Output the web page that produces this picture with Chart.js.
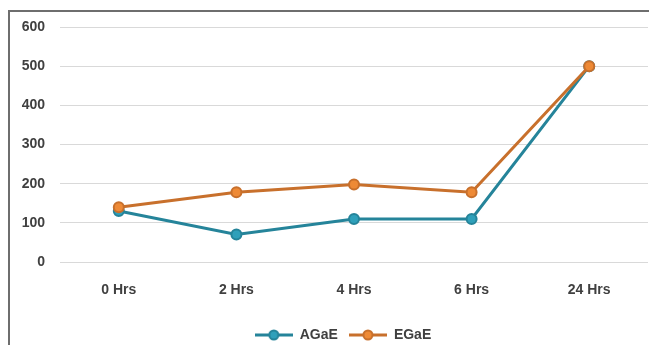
<!DOCTYPE html>
<html>
<head>
<meta charset="utf-8">
<script src="https://cdn.jsdelivr.net/npm/chart.js@4"></script>
<style>
  body { margin: 0; background: #fff; }
  #wrap { position: relative; width: 649px; height: 345px; overflow: hidden; }
  #frame { position: absolute; left: 8px; top: 10px; width: 700px; height: 400px; border: 2px solid #6e6e6e; box-sizing: border-box; }
  canvas { position: absolute; left: 0; top: 0; }
</style>
</head>
<body>
<div id="wrap">
  <div id="frame"></div>
  <canvas id="ParameterChart" width="649" height="352"></canvas>
</div>
<script>
    // Data waktu dan nilai
    const waktu = ['0 Hrs', '2 Hrs', '4 Hrs', '6 Hrs', '24 Hrs'];
    const agae = [130, 70, 110, 110, 500];
    const egae = [140, 178, 198, 178, 500];
    const yTicks = [0, 100, 200, 300, 400, 500, 600];

    const teal = '#25849a';
    const tealFill = '#2fa0ba';
    const orange = '#c8702c';
    const orangeFill = '#ee8a36';

    // Ikon legenda: garis dengan titik di tengah
    function legendIcon(line, fill) {
        const c = document.createElement('canvas');
        c.width = 38; c.height = 12;
        const g = c.getContext('2d');
        g.strokeStyle = line;
        g.lineWidth = 3;
        g.beginPath(); g.moveTo(0, 6); g.lineTo(38, 6); g.stroke();
        g.beginPath(); g.arc(19, 6, 4.5, 0, Math.PI * 2);
        g.fillStyle = fill; g.fill();
        g.lineWidth = 2; g.stroke();
        return c;
    }
    const icons = [legendIcon(teal, tealFill), legendIcon(orange, orangeFill)];

    // Geser legenda sedikit ke kanan
    const geserLegenda = {
        id: 'geserLegenda',
        afterLayout(chart) {
            chart.legend.left += 19;
            chart.legend.right += 19;
        }
    };

    const font = { family: '"Liberation Sans", Arial, sans-serif', size: 14, weight: 'bold' };

    const ctx = document.getElementById('ParameterChart').getContext('2d');
    new Chart(ctx, {
        type: 'line',
        data: {
            labels: waktu,
            datasets: [
                {
                    label: 'AGaE',
                    data: agae,
                    order: 1,
                    borderColor: teal,
                    backgroundColor: tealFill,
                    pointBackgroundColor: tealFill,
                    pointBorderColor: teal,
                    borderWidth: 3,
                    pointRadius: 5,
                    pointBorderWidth: 2,
                    tension: 0
                },
                {
                    // digambar di atas garis AGaE
                    label: 'EGaE',
                    data: egae,
                    order: 0,
                    borderColor: orange,
                    backgroundColor: orangeFill,
                    pointBackgroundColor: orangeFill,
                    pointBorderColor: orange,
                    borderWidth: 3,
                    pointRadius: 5,
                    pointBorderWidth: 2,
                    tension: 0
                }
            ]
        },
        plugins: [geserLegenda],
        options: {
            responsive: false,
            animation: false,
            layout: { autoPadding: false, padding: { left: 0, right: 1, top: 27, bottom: 0 } },
            plugins: {
                tooltip: { enabled: false },
                legend: {
                    position: 'bottom',
                    labels: {
                        color: '#404040',
                        font: font,
                        usePointStyle: true,
                        pointStyleWidth: 38,
                        padding: 11,
                        generateLabels: chart => chart.data.datasets.map((ds, i) => ({
                            text: ds.label,
                            pointStyle: icons[i],
                            fillStyle: ds.backgroundColor,
                            strokeStyle: ds.borderColor,
                            lineWidth: 0,
                            fontColor: '#404040',
                            datasetIndex: i,
                            hidden: false
                        }))
                    }
                }
            },
            scales: {
                x: {
                    offset: true,
                    grid: { display: false },
                    border: { display: false },
                    ticks: { color: '#404040', font: font, padding: 12 },
                    afterFit: s => { s.height = 55; s.paddingLeft = 0; s.paddingRight = 0; }
                },
                y: {
                    min: 0,
                    max: 600,
                    afterBuildTicks: s => { s.ticks = yTicks.map(v => ({ value: v })); },
                    grid: { color: '#d9d9d9', lineWidth: 1, drawTicks: false },
                    border: { display: false },
                    ticks: { color: '#404040', font: font, padding: 15 },
                    afterFit: s => { s.width = 60; }
                }
            }
        }
    });
</script>
</body>
</html>
